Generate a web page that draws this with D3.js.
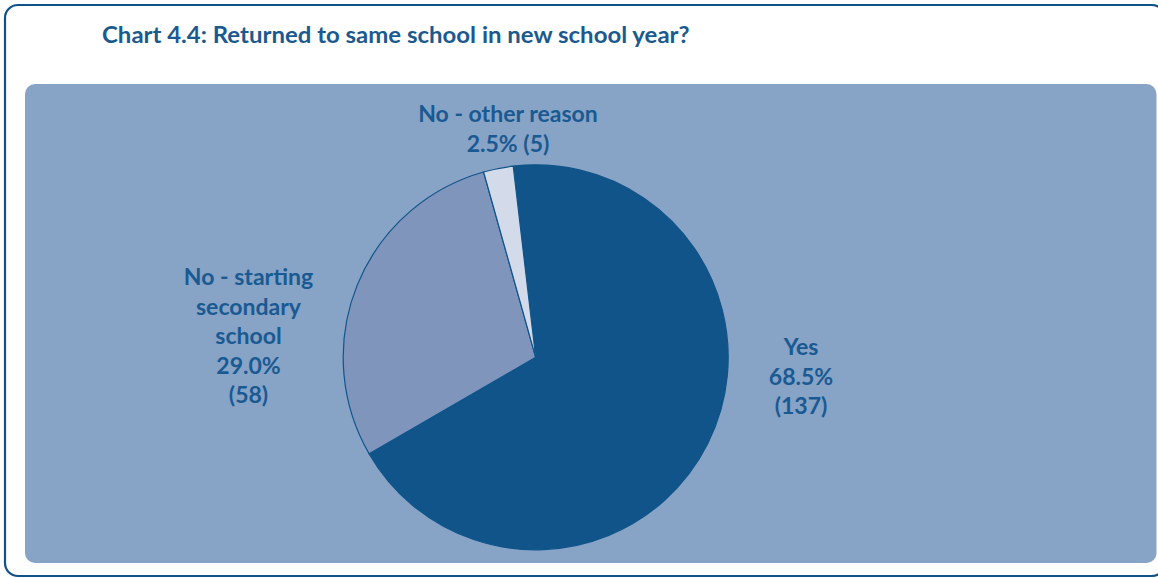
<!DOCTYPE html>
<html>
<head>
<meta charset="utf-8">
<script src="https://cdn.jsdelivr.net/npm/d3@7"></script>
<style>
  html, body { margin: 0; padding: 0; background: #ffffff; }
  svg { display: block; }
  text { font-family: Lato, "Open Sans", sans-serif; font-weight: 700; }
</style>
</head>
<body>
<svg id="chart" width="1158" height="578"></svg>
<script>
// Responses: did the pupil return to the same school?
const categories = ["Yes", "No - starting secondary school", "No - other reason"];
const counts = [137, 58, 5];
const percents = ["68.5%", "29.0%", "2.5%"];
const labelLines = [
  ["Yes", "68.5%", "(137)"],
  ["No - starting", "secondary", "school", "29.0%", "(58)"],
  ["No - other reason", "2.5% (5)"]
];
const sliceColors = ["#10548a", "#7f95bc", "#d3dbea"];
const title = "Chart 4.4: Returned to same school in new school year?";

const W = 1158, H = 578;
const textColor = "#1a5a92";
const svg = d3.select("#chart");

// Outer rounded frame
svg.append("rect")
  .attr("x", 5).attr("y", 5)
  .attr("width", 1160).attr("height", 571)
  .attr("rx", 13).attr("ry", 13)
  .attr("fill", "#ffffff")
  .attr("stroke", "#0f5288").attr("stroke-width", 2.2);

// Plot panel
svg.append("rect")
  .attr("x", 25).attr("y", 84)
  .attr("width", 1131.5).attr("height", 479)
  .attr("rx", 10).attr("ry", 10)
  .attr("fill", "#87a3c6");

// Stretch a text line horizontally by a factor
function widen(node, k) {
  const w = node.getComputedTextLength();
  d3.select(node).attr("textLength", w * k).attr("lengthAdjust", "spacingAndGlyphs");
}

// Title
svg.append("text")
  .attr("x", 102).attr("y", 43)
  .attr("font-size", 23.5)
  .attr("fill", "#1b5a8e")
  .text(title)
  .each(function () { widen(this, 1.02); });

// Pie
const cx = 535.7, cy = 357.3, R = 192.5;
const start = -0.117;
const pie = d3.pie().sort(null).startAngle(start).endAngle(start + 2 * Math.PI);
const arc = d3.arc().innerRadius(0).outerRadius(R);
const arcs = pie(counts);

const g = svg.append("g").attr("transform", `translate(${cx},${cy})`);
g.selectAll("path")
  .data(arcs)
  .join("path")
  .attr("d", arc)
  .attr("fill", (d, i) => sliceColors[i])
  .attr("stroke", "#10548a")
  .attr("stroke-width", 1.2)
  .attr("stroke-linejoin", "round");

// Labels: centre x and first baseline for each block
const labelPos = [
  { x: 801, y: 355 },
  { x: 248.5, y: 285 },
  { x: 508, y: 122 }
];
const lineGap = 29.6;

labelLines.forEach((lines, i) => {
  const t = svg.append("text")
    .attr("text-anchor", "middle")
    .attr("font-size", 23.5)
    .attr("fill", textColor);
  lines.forEach((ln, j) => {
    t.append("tspan")
      .attr("x", labelPos[i].x)
      .attr("y", labelPos[i].y + j * lineGap)
      .text(ln);
  });
  t.selectAll("tspan").each(function () { widen(this, 0.98); });
});
</script>
</body>
</html>
